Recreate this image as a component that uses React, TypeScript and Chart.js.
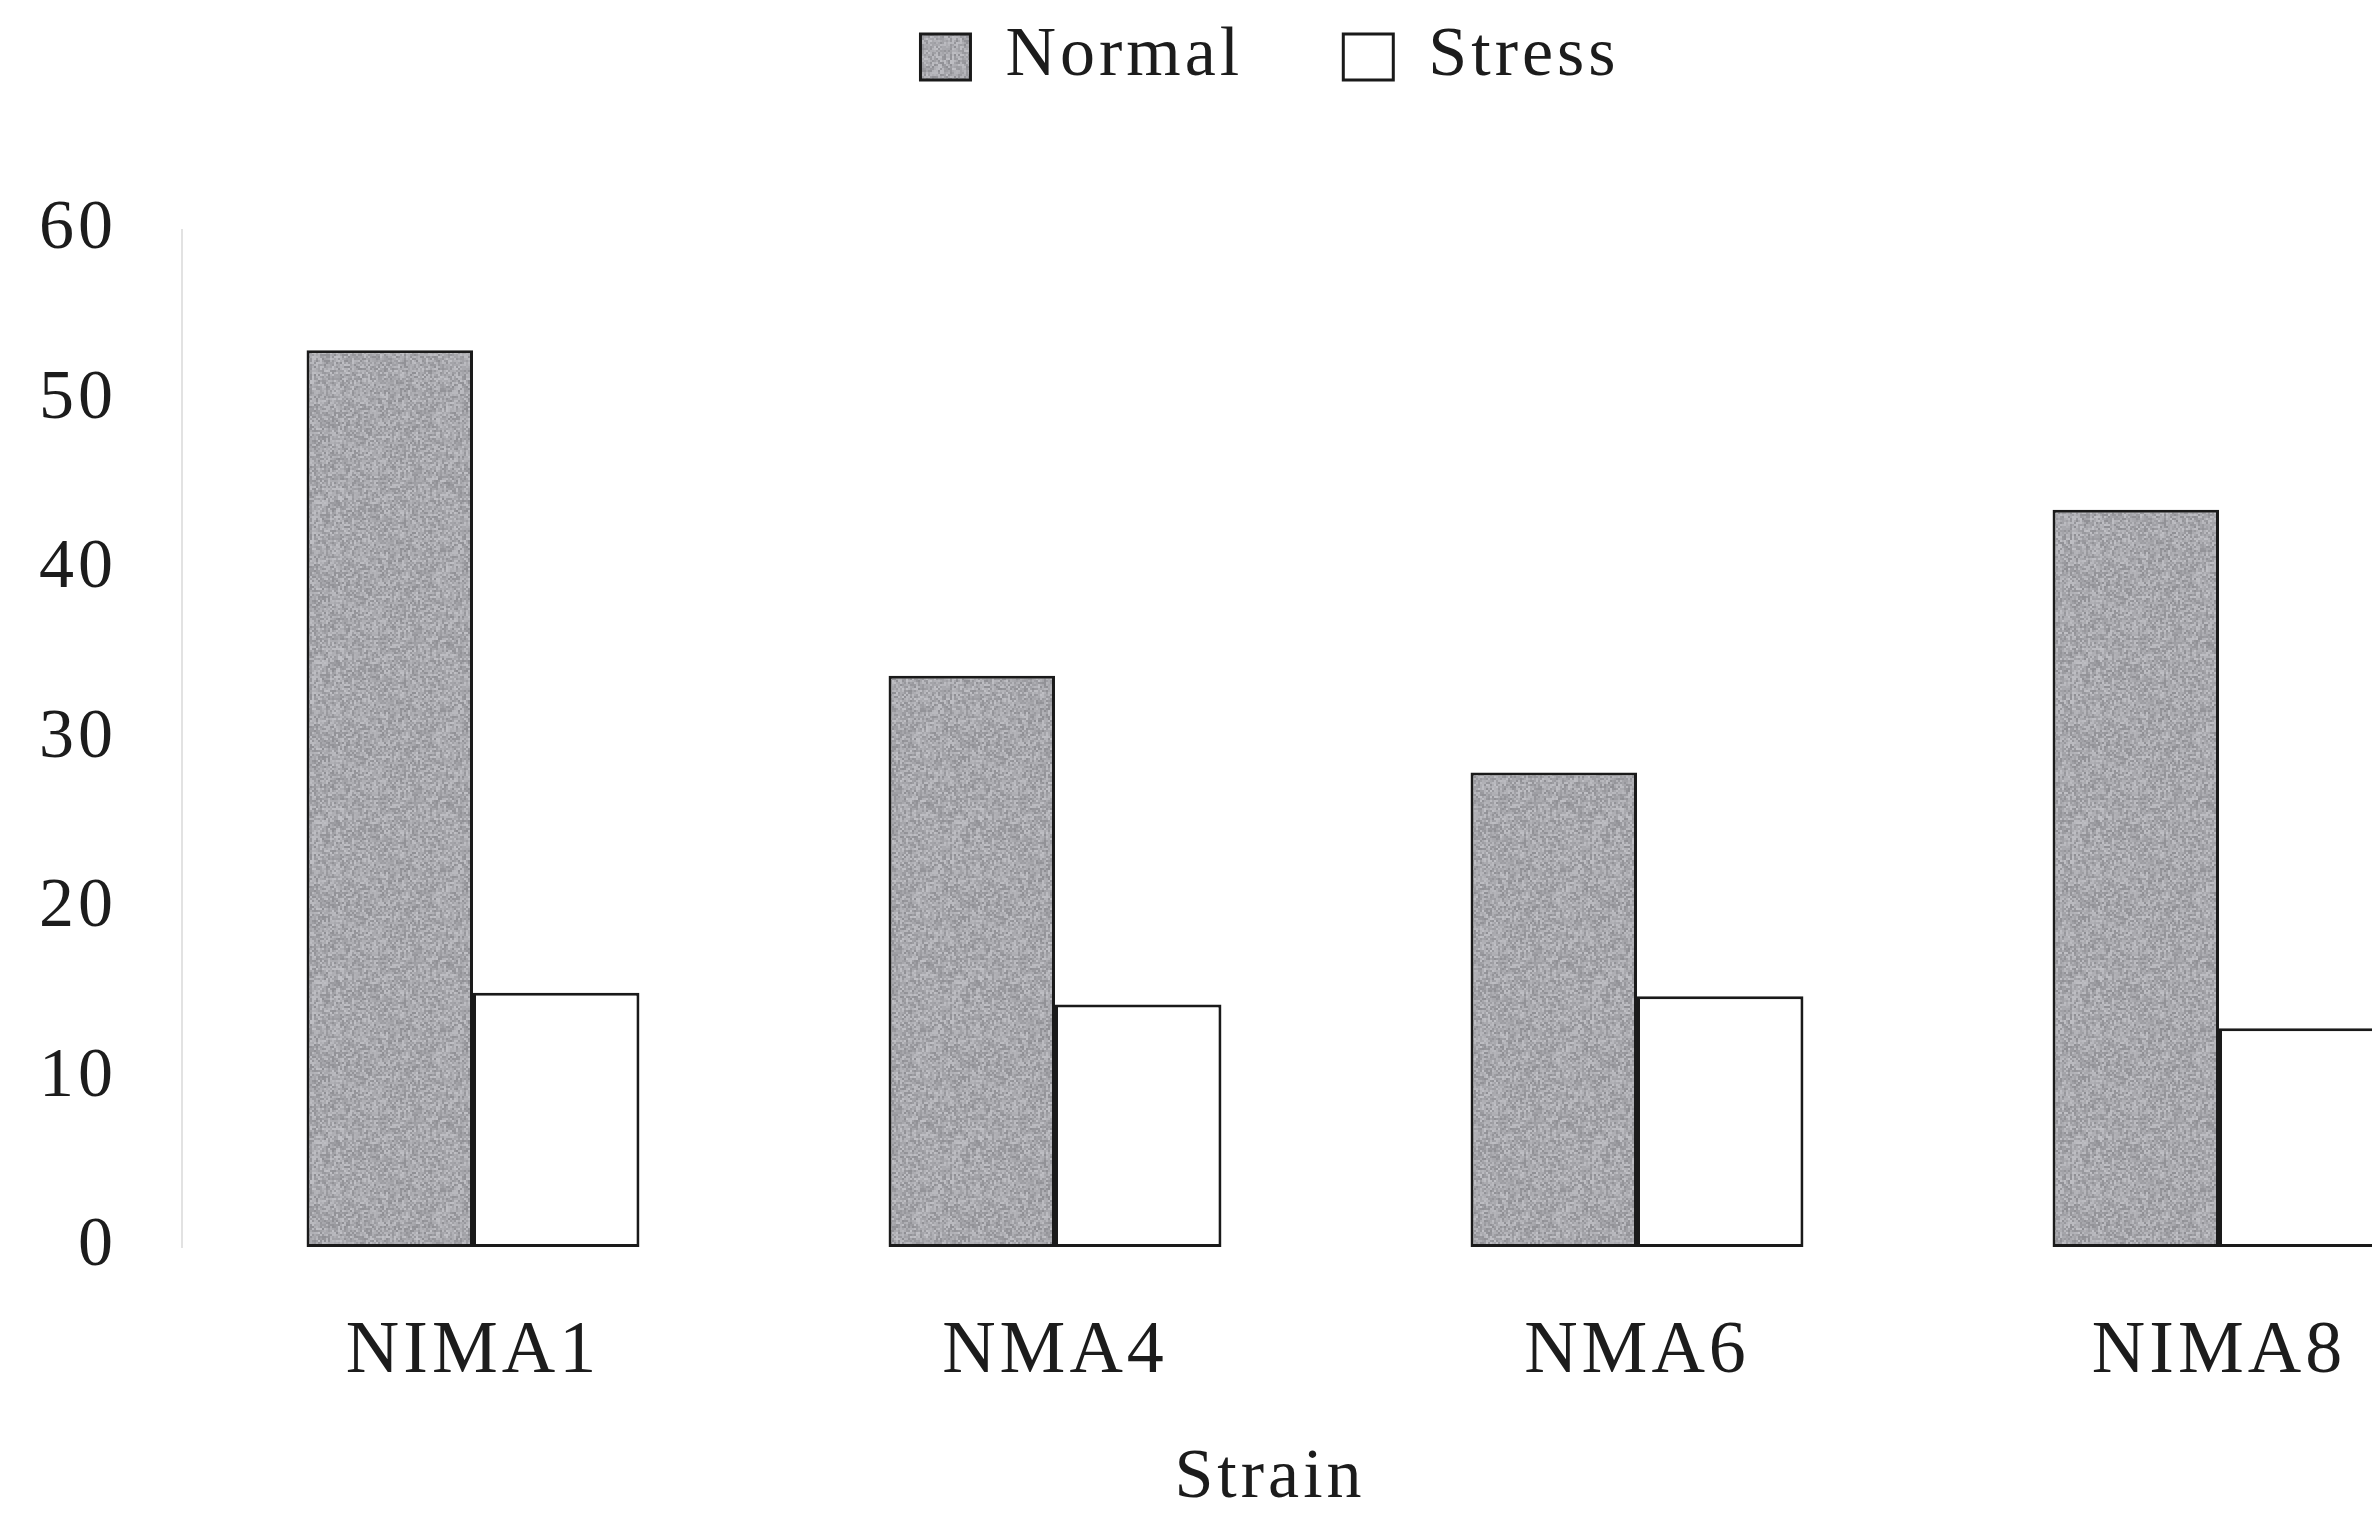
import React, { useEffect, useRef } from "react";
import { Chart, registerables } from "chart.js";

Chart.register(...registerables);

const categories = ["NIMA1", "NMA4", "NMA6", "NIMA8"];
const normalValues = [52.9, 33.7, 28.0, 43.5];
const stressValues = [15.0, 14.3, 14.8, 12.9];
const seriesNames = ["Normal", "Stress"];
const yTicks = [0, 10, 20, 30, 40, 50, 60];
const xTitle = "Strain";

const FONT = "'Liberation Serif', 'Times New Roman', serif";
const INK = "#1c1c1c";

function hash(n: number): number {
  let h = (n ^ 0x9e3779b9) >>> 0;
  h = Math.imul(h ^ (h >>> 16), 0x85ebca6b) >>> 0;
  h = Math.imul(h ^ (h >>> 13), 0xc2b2ae35) >>> 0;
  h = (h ^ (h >>> 16)) >>> 0;
  return h;
}

function makeGrayTexture(): CanvasPattern | string {
  const N = 160;
  const c = document.createElement("canvas");
  c.width = N;
  c.height = N;
  const g = c.getContext("2d");
  if (!g) return "#a8a8ab";
  const img = g.createImageData(N, N);
  for (let y = 0; y < N; y++) {
    for (let x = 0; x < N; x++) {
      // deterministic hashed speckle (2px cells) imitating a scanned halftone fill
      const cell = (y >> 1) * 1009 + (x >> 1);
      const v = 168 + (hash(cell) % 50) - 25;
      const i = (y * N + x) * 4;
      img.data[i] = v;
      img.data[i + 1] = v;
      img.data[i + 2] = v + 5;
      img.data[i + 3] = 255;
    }
  }
  g.putImageData(img, 0, 0);
  const p = g.createPattern(c, "repeat");
  return p || "#a8a8ab";
}

const spacingPlugin = {
  id: "letterSpacingPlugin",
  beforeUpdate(chart: any) {
    chart.ctx.letterSpacing = "4px";
  },
  beforeDraw(chart: any) {
    chart.ctx.letterSpacing = "4px";
  },
};

export default function App() {
  const ref = useRef<HTMLCanvasElement | null>(null);

  useEffect(() => {
    if (!ref.current) return;
    const texture = makeGrayTexture();
    const chart = new Chart(ref.current, {
      type: "bar",
      data: {
        labels: categories,
        datasets: [
          {
            label: seriesNames[0],
            data: normalValues,
            backgroundColor: texture as any,
            borderColor: "#1a1a1a",
            borderWidth: 3,
            borderSkipped: false,
            xAxisID: "x",
            yAxisID: "y",
          },
          {
            label: seriesNames[1],
            data: stressValues,
            backgroundColor: "#ffffff",
            borderColor: "#1a1a1a",
            borderWidth: 3,
            borderSkipped: false,
            xAxisID: "x",
            yAxisID: "y",
          },
        ],
      },
      options: {
        animation: false,
        responsive: true,
        maintainAspectRatio: false,
        layout: { padding: { left: 30, right: 10, top: -78, bottom: 0 } },
        datasets: {
          bar: { categoryPercentage: 0.572, barPercentage: 1 },
        },
        plugins: {
          legend: {
            display: true,
            position: "top",
            labels: {
              font: { family: FONT, size: 70 },
              color: INK,
              boxWidth: 50,
              boxHeight: 46,
              padding: 100,
            },
          },
          title: {
            display: true,
            position: "bottom",
            text: xTitle,
            color: INK,
            font: { family: FONT, size: 70, weight: "normal" },
            padding: { top: 40, bottom: 3 },
          },
          tooltip: { enabled: false },
        },
        scales: {
          x: {
            type: "category",
            position: "bottom",
            grid: { display: false, drawTicks: false },
            border: { display: false },
            ticks: {
              color: INK,
              font: { family: FONT, size: 74 },
              padding: 61,
              maxRotation: 0,
            },
            afterFit: (s: any) => {
              s.height = 150;
            },
          },
          xTop: {
            type: "category",
            position: "top",
            display: true,
            grid: { display: false, drawTicks: false },
            border: { display: false },
            ticks: { display: false },
            afterFit: (s: any) => {
              s.height = 128;
            },
          },
          y: {
            type: "linear",
            min: yTicks[0],
            max: yTicks[yTicks.length - 1],
            grid: { display: false, drawTicks: false },
            border: { display: true, color: "#e2e2e2", width: 2, dash: [3, 5] },
            afterBuildTicks: (s: any) => {
              s.ticks = yTicks.map((v) => ({ value: v }));
            },
            ticks: {
              color: INK,
              font: { family: FONT, size: 70 },
              padding: 65,
            },
            afterFit: (s: any) => {
              s.width = 152;
            },
          },
        },
      },
      plugins: [spacingPlugin],
    });
    return () => chart.destroy();
  }, []);

  return (
    <div
      style={{
        position: "fixed",
        left: 0,
        top: 0,
        width: 2372,
        height: 1524,
        overflow: "hidden",
        background: "#ffffff",
      }}
    >
      <div style={{ position: "relative", width: 2520, height: 1524 }}>
        <canvas ref={ref} />
      </div>
    </div>
  );
}
